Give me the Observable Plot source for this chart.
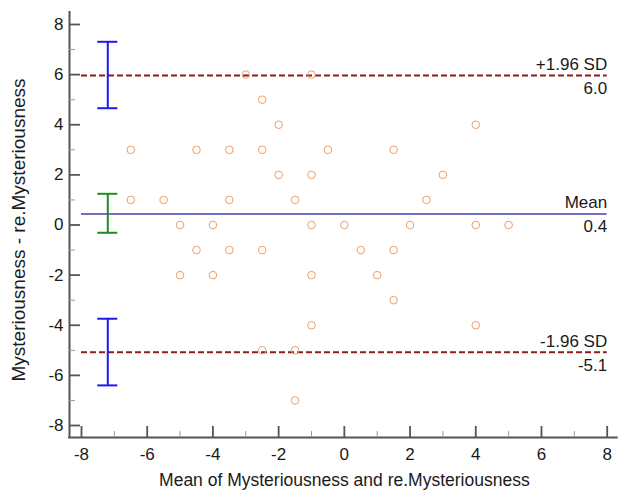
<!DOCTYPE html>
<html>
<head>
<meta charset="utf-8">
<script src="https://cdn.jsdelivr.net/npm/d3@7"></script>
<script src="https://cdn.jsdelivr.net/npm/@observablehq/plot@0.6"></script>
<style>
  html, body { margin: 0; padding: 0; background: #ffffff; }
  #chart svg { display: block; }
</style>
</head>
<body>
<div id="chart"></div>
<script>
// ---- Data ----
const meanValues = [
  -3, -1,
  -2.5,
  -2, 4,
  -6.5, -4.5, -3.5, -2.5, -0.5, 1.5,
  -2, -1, 3,
  -6.5, -5.5, -3.5, -1.5, 2.5,
  -5, -4, -1, 0, 2, 4, 5,
  -4.5, -3.5, -2.5, 0.5, 1.5,
  -5, -4, -1, 1,
  1.5,
  -1, 4,
  -2.5, -1.5,
  -1.5
];
const diffValues = [
  6, 6,
  5,
  4, 4,
  3, 3, 3, 3, 3, 3,
  2, 2, 2,
  1, 1, 1, 1, 1,
  0, 0, 0, 0, 0, 0, 0,
  -1, -1, -1, -1, -1,
  -2, -2, -2, -2,
  -3,
  -4, -4,
  -5, -5,
  -7
];

const limitNames  = ["+1.96 SD", "Mean", "-1.96 SD"];
const limitValues = [5.97, 0.44, -5.08];
const limitLabels = ["6.0", "0.4", "-5.1"];

// confidence intervals of the limits, drawn at x = ciPosition
const ciPosition = -7.2;
const ciLow  = [4.66, -0.31, -6.40];
const ciHigh = [7.31, 1.245, -3.74];
const ciColors = ["#1a1aee", "#218a21", "#1a1aee"];

const xMajorTicks = [-8, -6, -4, -2, 0, 2, 4, 6, 8];
const xMinorTicks = [-7, -5, -3, -1, 1, 3, 5, 7];
const yMajorTicks = [-8, -6, -4, -2, 0, 2, 4, 6, 8];
const yMinorTicks = [-7, -5, -3, -1, 1, 3, 5, 7];

const xTitle = "Mean of Mysteriousness and re.Mysteriousness";
const yTitle = "Mysteriousness - re.Mysteriousness";

// ---- Build tables ----
const points = meanValues.map((m, i) => ({m, d: diffValues[i]}));
const limits = limitNames.map((name, i) => ({name, value: limitValues[i], label: limitLabels[i]}));
const cis = ciLow.map((lo, i) => ({x: ciPosition, lo, hi: ciHigh[i], color: ciColors[i]}));

const axisColor = "#555555";
const minorColor = "#9a9a9a";
const textColor = "#1a1a1a";
const font = "'Liberation Sans', Arial, sans-serif";
const hyphenFormat = d => String(d);

const chart = Plot.plot({
  width: 619,
  height: 490,
  marginLeft: 81,
  marginRight: 12.3,
  marginTop: 24,
  marginBottom: 65,
  x: {domain: [xMajorTicks[0], xMajorTicks[xMajorTicks.length - 1]]},
  y: {domain: [yMajorTicks[0], yMajorTicks[yMajorTicks.length - 1]]},
  style: {fontFamily: font, fontSize: "17px", color: textColor, background: "#ffffff"},
  marks: [
    // axis lines (offset from the data frame)
    Plot.ruleX([xMajorTicks[0]], {stroke: axisColor, strokeWidth: 2, dx: -12, insetTop: -13, insetBottom: -12}),
    Plot.ruleY([yMajorTicks[0]], {stroke: axisColor, strokeWidth: 2, dy: 12, insetLeft: -13, insetRight: -11}),
    // inward ticks
    Plot.axisY(yMajorTicks, {tickSize: -11, dx: -12, stroke: axisColor, strokeWidth: 1.8, fill: "none", label: null}),
    Plot.axisY(yMinorTicks, {tickSize: -6, dx: -12, stroke: minorColor, strokeWidth: 1, fill: "none", label: null}),
    Plot.axisX(xMajorTicks, {tickSize: -11, dy: 12, stroke: axisColor, strokeWidth: 1.8, fill: "none", label: null}),
    Plot.axisX(xMinorTicks, {tickSize: -6, dy: 12, stroke: minorColor, strokeWidth: 1, fill: "none", label: null}),
    // tick labels
    Plot.axisY(yMajorTicks, {tickSize: 0, tickPadding: 18, label: null, fill: textColor, fontSize: 17, tickFormat: hyphenFormat}),
    Plot.axisX(xMajorTicks, {tickSize: 0, tickPadding: 22, label: null, fill: textColor, fontSize: 17, tickFormat: hyphenFormat}),
    // axis titles
    Plot.text([xTitle], {text: d => d, frameAnchor: "bottom", lineAnchor: "middle", textAnchor: "middle", dy: 55, fontSize: 17.5, fill: textColor}),
    Plot.text([yTitle], {text: d => d, frameAnchor: "left", lineAnchor: "middle", textAnchor: "middle", rotate: -90, dx: -63, dy: 5, fontSize: 19, fill: textColor}),
    // limits of agreement and mean
    Plot.ruleY(limits.filter(d => d.name !== "Mean"), {y: "value", stroke: "#8b1c1c", strokeWidth: 2, strokeDasharray: "6,3"}),
    Plot.ruleY(limits.filter(d => d.name === "Mean"), {y: "value", stroke: "#7070bd", strokeWidth: 2}),
    // points
    Plot.dot(points, {x: "m", y: "d", r: 3.8, stroke: "#ec9f68", strokeWidth: 1, fill: "none"}),
    // confidence interval bars
    Plot.ruleX(cis, {x: "x", y1: "lo", y2: "hi", stroke: "color", strokeWidth: 2}),
    Plot.ruleY(cis, {y: "lo", x1: "x", x2: "x", insetLeft: -10, insetRight: -10, stroke: "color", strokeWidth: 2}),
    Plot.ruleY(cis, {y: "hi", x1: "x", x2: "x", insetLeft: -10, insetRight: -10, stroke: "color", strokeWidth: 2}),
    // labels of the lines
    Plot.text(limits, {y: "value", text: "name", frameAnchor: "right", textAnchor: "end", lineAnchor: "middle", dy: -11, fill: textColor, fontSize: 17}),
    Plot.text(limits, {y: "value", text: "label", frameAnchor: "right", textAnchor: "end", lineAnchor: "middle", dy: 13, fill: textColor, fontSize: 17})
  ]
});

document.getElementById("chart").appendChild(chart);
</script>
</body>
</html>
